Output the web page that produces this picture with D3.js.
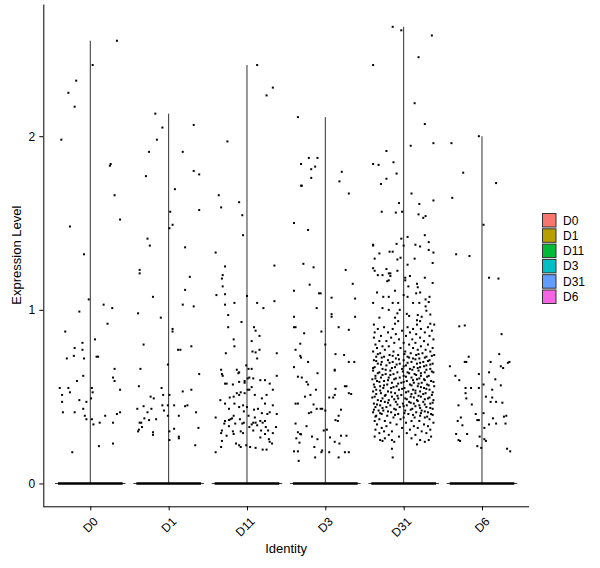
<!DOCTYPE html>
<html>
<head>
<meta charset="utf-8">
<script src="https://cdn.jsdelivr.net/npm/d3@7"></script>
<style>
  body { margin: 0; background: #fff; }
  svg { font-family: "Liberation Sans", Arial, sans-serif; }
</style>
</head>
<body>
<svg id="chart" width="600" height="568"></svg>
<script>
// groups and colours (ggplot hue palette)
const groups = ["D0", "D1", "D11", "D3", "D31", "D6"];
const groupColors = ["#F8766D", "#B79F00", "#00BA38", "#00BFC4", "#619CFF", "#F564E3"];
const yTicks = [0, 1, 2];

// non-zero cells: [jitter (fraction of band), expression]
const pointsD0 = [
  [0.34,2.55],[0.03,2.41],[-0.18,2.32],[-0.28,2.25],[-0.2,2.17],[-0.37,1.98],[0.26,1.84],[0.25,1.83],
  [0.31,1.66],[0.38,1.52],[-0.26,1.48],[-0.08,1.32],[-0.02,1.06],[0.17,1.03],[0.28,1.01],[-0.14,0.99],
  [0.22,0.92],[-0.32,0.875],[0.06,0.83],[-0.1,0.81],[-0.2,0.78],[-0.1,0.77],[0.08,0.73],[0.1,0.73],
  [-0.21,0.735],[-0.3,0.72],[-0.08,0.72],[0.31,0.66],[-0.09,0.62],[0.29,0.61],[0.31,0.59],[-0.17,0.59],
  [-0.39,0.55],[-0.28,0.55],[0.02,0.55],[0.38,0.54],[-0.26,0.525],[0.03,0.525],[-0.36,0.51],[0.01,0.49],
  [-0.14,0.48],[-0.36,0.47],[-0.05,0.47],[-0.09,0.43],[-0.35,0.41],[-0.2,0.41],[0.38,0.41],[0.34,0.40],
  [-0.07,0.39],[0.19,0.39],[-0.05,0.37],[0.02,0.37],[0.29,0.35],[0.12,0.35],[0.04,0.34],[0.29,0.23],
  [0.11,0.215],[-0.23,0.18]
];
const pointsD1 = [
  [-0.17,2.13],[-0.08,2.05],[0.32,2.065],[-0.15,1.98],[-0.25,1.91],[0.18,1.91],[0.32,1.80],[0.39,1.78],
  [-0.29,1.77],[0.08,1.695],[0.02,1.565],[0.39,1.575],[0.05,1.49],[0.01,1.47],[-0.27,1.41],[-0.24,1.37],
  [0.21,1.36],[-0.37,1.23],[-0.37,1.21],[0.27,1.19],[0.21,1.115],[-0.2,1.075],[0.18,1.03],[0.32,1.02],
  [-0.39,0.98],[-0.1,0.955],[0.05,0.89],[0.05,0.875],[-0.32,0.80],[0.12,0.77],[0.15,0.77],[0.29,0.79],
  [-0.01,0.685],[-0.36,0.66],[0.39,0.63],[-0.38,0.56],[-0.09,0.55],[0.29,0.54],[0.18,0.53],[-0.07,0.51],
  [0.01,0.51],[-0.23,0.50],[-0.19,0.49],[-0.08,0.45],[-0.01,0.45],[0.07,0.45],[0.21,0.445],[0.24,0.45],
  [-0.32,0.445],[-0.4,0.43],[-0.22,0.43],[-0.06,0.42],[-0.27,0.41],[0.35,0.41],[-0.01,0.39],[0.13,0.39],
  [-0.31,0.375],[-0.25,0.365],[-0.16,0.37],[-0.35,0.35],[-0.37,0.35],[-0.34,0.325],[0.38,0.32],[0.07,0.315],
  [-0.38,0.31],[-0.39,0.30],[-0.2,0.295],[-0.2,0.28],[0.01,0.30],[0.13,0.27],[0.13,0.26],[0.01,0.25],
  [0.34,0.22]
];
const pointsD11 = [
  [0.13,2.41],[0.33,2.28],[0.25,2.235],[-0.25,1.97],[-0.36,1.66],[-0.33,1.59],[-0.1,1.62],[-0.06,1.545],
  [-0.05,1.43],[-0.4,1.33],[-0.28,1.25],[0.35,1.255],[-0.31,1.20],[-0.32,1.18],[-0.31,1.135],[-0.28,1.09],
  [-0.39,1.085],[0,1.08],[0.35,1.05],[-0.16,1.04],[-0.28,1.03],[0.13,1.04],[0.21,1.01],[-0.24,0.97],
  [-0.07,0.93],[-0.24,0.90],[0.09,0.90],[0.11,0.88],[0.16,0.85],[0.06,0.82],[-0.17,0.83],[-0.16,0.79],
  [0.16,0.77],[0.07,0.76],[0.11,0.755],[-0.27,0.75],[0.38,0.75],[0.13,0.72],[-0.01,0.68],[0.02,0.66],
  [0.06,0.66],[-0.33,0.655],[-0.13,0.655],[-0.1,0.64],[-0.32,0.63],[-0.11,0.635],[-0.31,0.62],[0.38,0.62],
  [0.03,0.61],[0.08,0.605],[0.01,0.605],[0.17,0.595],[-0.03,0.59],[-0.03,0.58],[-0.1,0.585],[0.23,0.595],
  [-0.28,0.575],[-0.26,0.575],[-0.18,0.57],[0.06,0.555],[0.29,0.575],[0.01,0.54],[0.03,0.54],[-0.08,0.525],
  [0.33,0.54],[-0.03,0.52],[-0.1,0.51],[-0.17,0.50],[-0.13,0.52],[-0.22,0.495],[-0.34,0.48],[0.1,0.51],
  [0.25,0.51],[0.19,0.49],[-0.28,0.46],[-0.16,0.46],[-0.05,0.45],[0.23,0.46],[0.33,0.45],[-0.1,0.44],
  [0,0.44],[-0.23,0.43],[0.14,0.43],[0.09,0.425],[-0.04,0.415],[0.19,0.405],[0.29,0.41],[0.26,0.40],
  [0.38,0.40],[-0.17,0.39],[0.02,0.39],[-0.4,0.38],[0.1,0.38],[-0.19,0.375],[-0.21,0.37],[-0.09,0.37],
  [-0.23,0.365],[-0.28,0.36],[0.17,0.36],[0.23,0.36],[-0.04,0.35],[0.08,0.35],[0.11,0.35],[0.2,0.35],
  [-0.15,0.345],[-0.29,0.345],[-0.06,0.345],[0.06,0.34],[0.13,0.335],[-0.23,0.33],[0.03,0.325],[0.24,0.325],
  [0.37,0.325],[-0.32,0.305],[-0.18,0.30],[-0.08,0.30],[0.08,0.305],[0.18,0.305],[0.27,0.305],[0.33,0.29],
  [-0.05,0.29],[-0.33,0.29],[-0.26,0.275],[-0.17,0.285],[0.23,0.285],[0.17,0.265],[0.28,0.255],[-0.32,0.245],
  [0.29,0.24],[-0.14,0.23],[0.32,0.23],[-0.1,0.22],[-0.01,0.22],[-0.08,0.21],[0.04,0.21],[0.11,0.205],
  [0.2,0.195],[0.25,0.195],[-0.33,0.21],[-0.4,0.18]
];
const pointsD3 = [
  [-0.35,2.11],[-0.21,1.875],[-0.1,1.875],[-0.31,1.84],[-0.13,1.825],[-0.18,1.81],[0.21,1.795],[0.18,1.74],
  [-0.18,1.76],[-0.31,1.715],[-0.3,1.715],[0.3,1.67],[-0.4,1.50],[-0.22,1.46],[-0.28,1.265],[-0.15,1.245],
  [0.26,1.23],[0.35,1.15],[-0.2,1.145],[-0.4,1.11],[-0.08,1.095],[-0.06,1.095],[0.08,1.07],[0.38,1.065],
  [-0.11,1.01],[0.08,0.975],[0.08,0.96],[0.38,0.96],[-0.4,0.96],[-0.4,0.90],[-0.38,0.90],[0.17,0.90],
  [0.3,0.885],[-0.05,0.875],[-0.27,0.865],[-0.32,0.805],[0,0.80],[-0.38,0.77],[-0.32,0.735],[-0.31,0.725],
  [0.13,0.745],[0.24,0.74],[-0.22,0.70],[0.37,0.70],[0.3,0.70],[-0.4,0.67],[0.12,0.655],[0.12,0.65],
  [-0.1,0.635],[-0.35,0.615],[-0.3,0.61],[-0.24,0.585],[-0.22,0.57],[0.25,0.56],[0.27,0.56],[0.13,0.545],
  [-0.12,0.54],[0.3,0.52],[0.33,0.515],[-0.26,0.50],[-0.19,0.51],[0.12,0.51],[0.05,0.495],[0.1,0.495],
  [-0.38,0.46],[-0.35,0.46],[-0.15,0.455],[-0.11,0.43],[-0.06,0.43],[-0.04,0.43],[0,0.42],[0.2,0.425],
  [-0.18,0.41],[-0.21,0.405],[0.17,0.39],[0.13,0.365],[0.16,0.36],[-0.38,0.345],[-0.24,0.33],[-0.02,0.305],
  [0.02,0.31],[-0.35,0.295],[-0.32,0.285],[-0.31,0.283],[-0.17,0.27],[0.27,0.275],[0.06,0.265],[0.2,0.275],
  [-0.37,0.26],[-0.1,0.255],[-0.33,0.235],[0.12,0.24],[0.18,0.23],[-0.14,0.21],[-0.04,0.19],[-0.05,0.18],
  [-0.4,0.185],[-0.35,0.185],[0.05,0.18],[0.25,0.18],[0.3,0.18],[-0.13,0.15],[0.17,0.15],[-0.34,0.13]
];
const pointsD31 = [
  [-0.14,2.63],[-0.03,2.61],[0.36,2.58],[0.19,2.455],[-0.39,2.41],[0.14,2.19],[0.27,2.07],[0.09,1.945],
  [0.38,1.96],[-0.22,1.915],[-0.39,1.84],[-0.32,1.835],[-0.13,1.85],[-0.09,1.785],[-0.22,1.755],[-0.29,1.725],
  [0.1,1.67],[-0.06,1.615],[0.2,1.61],[0.38,1.63],[-0.28,1.565],[-0.1,1.56],[-0.02,1.565],[0.19,1.55],
  [0.28,1.54],[0.25,1.53],[0.27,1.43],[0.05,1.42],[-0.03,1.41],[0.32,1.39],[-0.09,1.38],[-0.39,1.375],
  [-0.39,1.37],[0,1.37],[0.15,1.375],[0.21,1.365],[-0.18,1.335],[-0.14,1.335],[0.32,1.345],[0.38,1.33],
  [-0.31,1.325],[-0.37,1.295],[-0.08,1.29],[-0.04,1.30],[0.14,1.295],
  [0.05,1.26],[0.37,1.27],[-0.39,1.24],[-0.37,1.225],[-0.22,1.235],[-0.08,1.225],[-0.33,1.20],[-0.27,1.20],
  [-0.19,1.21],[-0.17,1.21],[-0.17,1.195],[0.08,1.195],[0.02,1.185],[0.27,1.185],[-0.19,1.17],[-0.21,1.165],
  [0.02,1.17],[0.17,1.15],[0.37,1.155],[0.06,1.135],[0.18,1.13],[-0.11,1.11],[-0.34,1.10],[0.16,1.095],
  [0.21,1.10],[-0.26,1.075],[-0.19,1.075],[0,1.085],[0.05,1.075],[0.33,1.075],[0.28,1.06],[-0.39,1.04],
  [-0.14,1.04],[-0.07,1.04],[0.12,1.04],[0.2,1.04],[0.32,1.045],[0.28,1.02],[-0.27,1.01],[-0.19,1.0],
  [-0.05,1.0],[0.29,0.995],[-0.08,0.98],[0.04,0.977],[0.07,0.965],[0.18,0.97],[0.34,0.973],[-0.31,0.955],
  [-0.11,0.955],[0.23,0.96],[-0.07,0.935],[0.17,0.94],[0.21,0.935],[0.34,0.92],[-0.38,0.915],[-0.11,0.92],
  [0.17,0.915],[0.39,0.915],
  [-0.25,0.90],[0.05,0.90],[0.31,0.90],[-0.33,0.89],[-0.14,0.89],[0.12,0.89],[0.22,0.89],[-0.02,0.88],
  [0.36,0.88],[-0.37,0.87],[-0.2,0.87],[0.08,0.87],[0.27,0.87],[-0.1,0.86],[0.16,0.86],[-0.29,0.85],
  [0.03,0.85],[0.33,0.85],[-0.38,0.84],[-0.16,0.84],[0.21,0.84],[-0.06,0.83],[0.11,0.83],[0.38,0.83],
  [-0.31,0.82],[-0.22,0.82],[0.26,0.82],[0,0.81],[0.15,0.81],[-0.12,0.81],[-0.36,0.80],[0.31,0.80],
  [0.07,0.80],[-0.19,0.79],[0.22,0.79],[-0.27,0.79],[-0.04,0.78],[0.12,0.78],[0.37,0.78],[-0.34,0.78],
  [-0.24,0.77],[0.18,0.77],[0.28,0.77],[-0.13,0.76],[0.02,0.76],[-0.39,0.76],[0.34,0.76],[-0.3,0.75],
  [0.09,0.75],[0.24,0.75],[-0.18,0.74],[-0.07,0.74],[0.16,0.74],[0.39,0.74],[-0.35,0.73],[0.05,0.73],
  [0.29,0.73],[-0.25,0.73],[-0.1,0.72],[0.2,0.72],[0.12,0.72],[-0.38,0.71],[-0.2,0.71],[0.33,0.71],
  [0,0.71],[-0.28,0.70],[-0.14,0.70],[0.1,0.70],[0.25,0.70],[-0.05,0.69],[0.17,0.69],[0.37,0.69],
  [-0.33,0.69],[-0.22,0.68],[0.03,0.68],[0.29,0.68],[-0.37,0.67],[-0.11,0.67],[0.13,0.67],[0.21,0.67],
  [-0.27,0.66],[-0.02,0.66],[0.34,0.66],[0.08,0.66],[-0.17,0.65],[0.19,0.65],[-0.39,0.65],[-0.31,0.64],
  [-0.08,0.64],[0.05,0.64],[0.27,0.64],[0.38,0.64],[-0.23,0.63],[0.14,0.63],[-0.13,0.63],[-0.36,0.62],
  [0,0.62],[0.22,0.62],[0.32,0.62],[-0.19,0.61],[-0.05,0.61],[0.1,0.61],[-0.29,0.61],[-0.4,0.60],
  [0.26,0.60],[0.17,0.60],[-0.12,0.60],[-0.25,0.59],[0.04,0.59],[0.35,0.59],[-0.34,0.59],[-0.15,0.58],
  [0.13,0.58],[0.23,0.58],[-0.03,0.58],[-0.38,0.57],[-0.21,0.57],[0.08,0.57],[0.3,0.57],[-0.09,0.56],
  [0.18,0.56],[0.39,0.56],[-0.3,0.56],[-0.26,0.55],[0.01,0.55],[0.26,0.55],[-0.16,0.55],[-0.35,0.54],
  [-0.06,0.54],[0.12,0.54],[0.33,0.54],[-0.2,0.53],[0.21,0.53],[-0.39,0.53],[0.06,0.53],[-0.29,0.52],
  [-0.11,0.52],[0.15,0.52],[0.28,0.52],[-0.03,0.51],[0.36,0.51],[-0.23,0.51],[-0.37,0.50],[-0.15,0.50],
  [0.09,0.50],[0.22,0.50],[-0.27,0.49],[0.02,0.49],[0.31,0.49],[-0.07,0.49],[-0.33,0.48],[-0.19,0.48],
  [0.17,0.48],[0.38,0.48],[-0.1,0.47],[0.07,0.47],[0.25,0.47],[-0.24,0.47],[-0.38,0.46],[-0.01,0.46],
  [0.13,0.46],[0.34,0.46],[-0.3,0.45],[-0.17,0.45],[0.2,0.45],[0.04,0.45],[-0.22,0.44],[-0.05,0.44],
  [0.29,0.44],[-0.36,0.44],[-0.12,0.43],[0.11,0.43],[0.37,0.43],[-0.32,0.42],[-0.26,0.42],[0.02,0.42],
  [0.23,0.42],[-0.16,0.41],[0.16,0.41],[0.31,0.41],[-0.39,0.41],[-0.07,0.40],[0.06,0.40],[-0.28,0.40],
  [0.35,0.40],[-0.21,0.39],[0.21,0.39],[-0.35,0.39],[-0.13,0.38],[0,0.38],[0.27,0.38],[0.14,0.38],
  [-0.31,0.37],[-0.04,0.37],[0.33,0.37],[-0.24,0.36],[0.1,0.36],[0.2,0.36],[-0.37,0.36],[-0.17,0.35],
  [0.03,0.35],[0.38,0.35],[-0.34,0.34],[-0.09,0.34],[0.26,0.34],[-0.22,0.33],[0.13,0.33],[0.31,0.33],
  [-0.28,0.32],[-0.02,0.32],[0.18,0.32],[-0.36,0.31],[0.08,0.31],[0.34,0.31],[-0.15,0.30],[0.23,0.30],
  [-0.25,0.30],[-0.31,0.29],[0.04,0.29],[0.29,0.29],[-0.19,0.28],[0.15,0.28],[-0.37,0.27],[-0.06,0.27],
  [0.35,0.27],[-0.24,0.26],[0.1,0.26],[-0.3,0.25],[0.21,0.25],[0.32,0.25],[-0.12,0.24],[0.27,0.24],
  [-0.27,0.245],[-0.15,0.25],[0.17,0.225],[-0.15,0.20],[-0.14,0.15],
  [-0.33,0.745],[0.01,0.745],[0.19,0.745],[-0.14,0.735],[0.36,0.735],[-0.28,0.725],[0.07,0.725],[0.27,0.725],
  [-0.06,0.715],[0.15,0.715],[-0.35,0.705],[0.31,0.705],[-0.18,0.695],[0.05,0.695],[0.21,0.695],[-0.29,0.685],
  [-0.09,0.685],[0.34,0.685],[0,0.675],[0.26,0.675],[-0.39,0.665],[-0.15,0.665],[0.18,0.665],[-0.23,0.655],
  [0.11,0.655],[0.29,0.655],[-0.01,0.645],[0.36,0.645],[-0.33,0.635],[0.07,0.635],[0.22,0.635],[-0.17,0.625],
  [-0.27,0.625],[0.16,0.625],[0.03,0.615],[0.3,0.615],[-0.36,0.605],[-0.1,0.605],[0.2,0.605],[-0.2,0.595],
  [0.12,0.595],[0.27,0.595],[-0.31,0.585],[0,0.585],[0.38,0.585],[-0.07,0.575],[0.19,0.575],[-0.25,0.565],
  [0.1,0.565],[0.32,0.565],[-0.37,0.555],[-0.13,0.555],[0.22,0.555],[-0.02,0.545],[0.29,0.545],[-0.3,0.535],
  [0.15,0.535],[-0.16,0.525],[0.03,0.525],[0.37,0.525],[-0.35,0.515],[0.1,0.515],[0.25,0.515],[-0.24,0.505],
  [-0.08,0.505],[0.19,0.505],[-0.4,0.495],[0.13,0.495],[0.33,0.495],[-0.12,0.485],[0.04,0.485],[0.27,0.485],
  [-0.29,0.475],[0.18,0.475],[-0.2,0.465],[0.09,0.465],[0.37,0.465],[-0.34,0.455],[-0.08,0.455],[0.27,0.455],
  [0,0.445],[0.15,0.445],[-0.27,0.435],[0.21,0.435],[0.34,0.435],[-0.38,0.425],[-0.1,0.425],[0.09,0.425],
  [-0.2,0.415],[0.27,0.415],[-0.3,0.405],[0.01,0.405],[0.22,0.405],[-0.11,0.395],[0.12,0.395],[0.37,0.395],
  [-0.36,0.385],[0.3,0.385]
];
const pointsD6 = [
  [-0.39,1.96],[-0.04,2.0],[-0.24,1.79],[0.18,1.73],[-0.38,1.645],[0.02,1.49],[-0.33,1.32],[-0.16,1.31],
  [0.09,1.185],[0.21,1.18],[-0.29,0.905],[-0.22,0.91],[0.25,0.86],[-0.17,0.73],[-0.22,0.70],[-0.2,0.70],
  [0.22,0.745],[0.11,0.70],[0.35,0.70],[0.33,0.695],[-0.41,0.675],[0.24,0.675],[0.27,0.665],[0.09,0.64],
  [-0.04,0.63],[-0.34,0.62],[0.17,0.60],[-0.29,0.595],[0.02,0.57],[0.24,0.565],[-0.21,0.55],[-0.14,0.55],
  [-0.04,0.55],[0.13,0.54],[-0.21,0.52],[0.05,0.50],[0.13,0.495],[-0.2,0.49],[0.11,0.47],[0.18,0.47],
  [0.26,0.465],[-0.13,0.455],[-0.3,0.45],[-0.08,0.40],[0.02,0.405],[0.31,0.39],[0.28,0.385],[-0.27,0.38],
  [0.14,0.375],[-0.06,0.365],[-0.04,0.365],[-0.31,0.36],[0.18,0.345],[0.3,0.345],[0.09,0.34],[-0.25,0.335],
  [0.03,0.32],[-0.33,0.285],[-0.19,0.285],[-0.03,0.27],[0.03,0.255],[-0.3,0.25],[-0.28,0.245],[0.05,0.245],
  [-0.06,0.215],[-0.01,0.205],[0.32,0.20],[0.36,0.185]
];

const pointSets = [pointsD0, pointsD1, pointsD11, pointsD3, pointsD31, pointsD6];
const jitterWidth = 0.4;   // geom_jitter width
const violinWidth = 0.45;  // half of 0.9

const svg = d3.select("#chart");
const panel = {left: 43.3, right: 529, top: 4, bottom: 506.3};

const x = d3.scalePoint()
    .domain(groups)
    .range([panel.left, panel.right])
    .padding(0.6);
const step = x.step();

const yMax = d3.max(pointSets.flat(), d => d[1]);
const pad = yMax * 0.05;
const y = d3.scaleLinear()
    .domain([-pad, yMax + pad])
    .range([panel.bottom, panel.top]);

// violins: a spike of zero values plus a thin tail up to each group's max
groups.forEach((g, i) => {
  const cx = x(g);
  const top = d3.max(pointSets[i], d => d[1]);
  const path = d3.path();
  path.moveTo(cx - violinWidth * step, y(0));
  path.lineTo(cx + violinWidth * step, y(0));
  path.moveTo(cx, y(0));
  path.lineTo(cx, y(top));
  svg.append("path")
      .attr("d", path.toString())
      .attr("fill", groupColors[i])
      .attr("stroke", "#1a1a1a")
      .attr("stroke-width", 0.9);
});

// cells with zero expression pile up into a solid band
svg.selectAll(".zero")
    .data(groups)
    .enter().append("line")
    .attr("class", "zero")
    .attr("x1", g => x(g) - jitterWidth * step - 1)
    .attr("x2", g => x(g) + jitterWidth * step + 1)
    .attr("y1", y(0))
    .attr("y2", y(0))
    .attr("stroke", "#000")
    .attr("stroke-width", 2.6);

// jittered points
groups.forEach((g, i) => {
  svg.append("g").selectAll("rect")
      .data(pointSets[i])
      .enter().append("rect")
      .attr("x", d => x(g) + d[0] * step - 1)
      .attr("y", d => y(d[1]) - 1)
      .attr("width", 2)
      .attr("height", 2)
      .attr("fill", "#000");
});

// axes
const yAxis = svg.append("g")
    .attr("transform", "translate(" + panel.left + ",0)")
    .call(d3.axisLeft(y).tickValues(yTicks).tickFormat(d3.format("d"))
      .tickSize(4).tickSizeOuter(0).tickPadding(4));
yAxis.selectAll("text").attr("font-size", 12).attr("fill", "#000").attr("font-family", null);
yAxis.selectAll("line, path").attr("stroke", "#000");

const xAxis = svg.append("g")
    .attr("transform", "translate(0," + panel.bottom + ")")
    .call(d3.axisBottom(x).tickSize(4).tickSizeOuter(0));
xAxis.select(".domain").attr("d", "M" + panel.left + ",0.5H" + panel.right);
xAxis.selectAll("line, path").attr("stroke", "#000");
xAxis.selectAll("text")
    .attr("font-size", 12)
    .attr("fill", "#000")
    .attr("font-family", null)
    .attr("y", 0)
    .attr("dy", 0)
    .attr("text-anchor", "end")
    .attr("transform", "translate(8,16) rotate(-45)");

// axis titles
svg.append("text")
    .attr("x", (panel.left + panel.right) / 2)
    .attr("y", 553)
    .attr("text-anchor", "middle")
    .attr("font-size", 13)
    .text("Identity");

svg.append("text")
    .attr("transform", "translate(21," + (panel.top + panel.bottom) / 2 + ") rotate(-90)")
    .attr("text-anchor", "middle")
    .attr("font-size", 13)
    .text("Expression Level");

// legend
const legend = svg.append("g").attr("transform", "translate(542,213)");
groups.forEach((g, i) => {
  const row = legend.append("g").attr("transform", "translate(0," + i * 15.3 + ")");
  row.append("rect")
      .attr("x", 0.5).attr("y", 0.5)
      .attr("width", 13.5).attr("height", 13.5)
      .attr("fill", groupColors[i])
      .attr("stroke", "#333")
      .attr("stroke-width", 1);
  row.append("text")
      .attr("x", 21)
      .attr("y", 11.5)
      .attr("font-size", 12)
      .text(g);
});
</script>
</body>
</html>
